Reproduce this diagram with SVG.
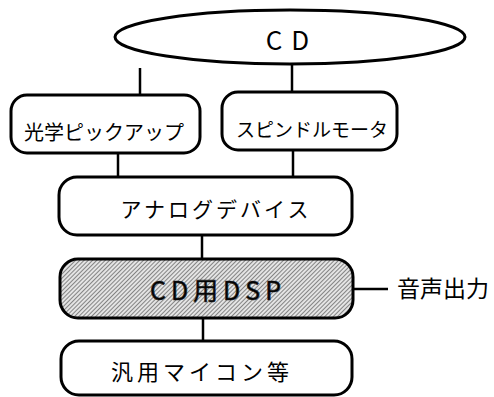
<svg xmlns="http://www.w3.org/2000/svg" width="494" height="397" viewBox="0 0 494 397">
<defs>
<pattern id="hatch" width="3" height="3" patternUnits="userSpaceOnUse" patternTransform="rotate(45)">
<rect width="3" height="3" fill="#e4e4e4"/>
<line x1="0" y1="0" x2="0" y2="3" stroke="#333" stroke-width="1.1"/>
</pattern>
</defs>
<style>
.box{fill:#fff;stroke:#000;stroke-width:3}
.line{stroke:#000;stroke-width:2.5;fill:none}
.t{font-family:"Noto Sans CJK JP","Noto Sans",sans-serif;fill:#000;text-anchor:middle}
</style>
<rect width="494" height="397" fill="#fff"/>
<g id="connectors">
<line class="line" x1="140" y1="68" x2="140" y2="96"/>
<line class="line" x1="292" y1="63" x2="292" y2="92"/>
<line class="line" x1="118" y1="152" x2="118" y2="178"/>
<line class="line" x1="293" y1="149" x2="293" y2="177"/>
<line class="line" x1="202" y1="235" x2="202" y2="260"/>
<line class="line" x1="203" y1="318" x2="203" y2="341"/>
<line class="line" x1="353" y1="289" x2="388" y2="289"/>
</g>
<g id="cd">
<ellipse cx="290" cy="37" rx="175" ry="27" fill="#fff" stroke="#000" stroke-width="3"/>
<text class="t" x="292" y="50" font-size="26" letter-spacing="9" font-family="Liberation Sans">CD</text>
</g>
<g id="pickup">
<rect class="box" x="11" y="95" width="189" height="58" rx="16"/>
<text class="t" x="104" y="140" font-size="20">光学ピックアップ</text>
</g>
<g id="spindle">
<rect class="box" x="222" y="92" width="175" height="58" rx="16"/>
<text class="t" x="312" y="137" font-size="19">スピンドルモータ</text>
</g>
<g id="analog">
<rect class="box" x="59" y="177" width="293" height="58" rx="18"/>
<text class="t" x="216" y="217" font-size="21" letter-spacing="3">アナログデバイス</text>
</g>
<g id="dsp">
<rect x="60" y="259" width="293" height="59" rx="18" fill="url(#hatch)" stroke="#000" stroke-width="3"/>
<text class="t" x="218" y="300" font-size="25" letter-spacing="5" fill="#f4f4f4" stroke="#222" stroke-width="0.7">CD用DSP</text>
</g>
<g id="output">
<text class="t" x="443" y="297" font-size="23">音声出力</text>
</g>
<g id="mcu">
<rect class="box" x="61" y="341" width="291" height="54" rx="18"/>
<text class="t" x="202" y="380" font-size="22" letter-spacing="4">汎用マイコン等</text>
</g>
</svg>
